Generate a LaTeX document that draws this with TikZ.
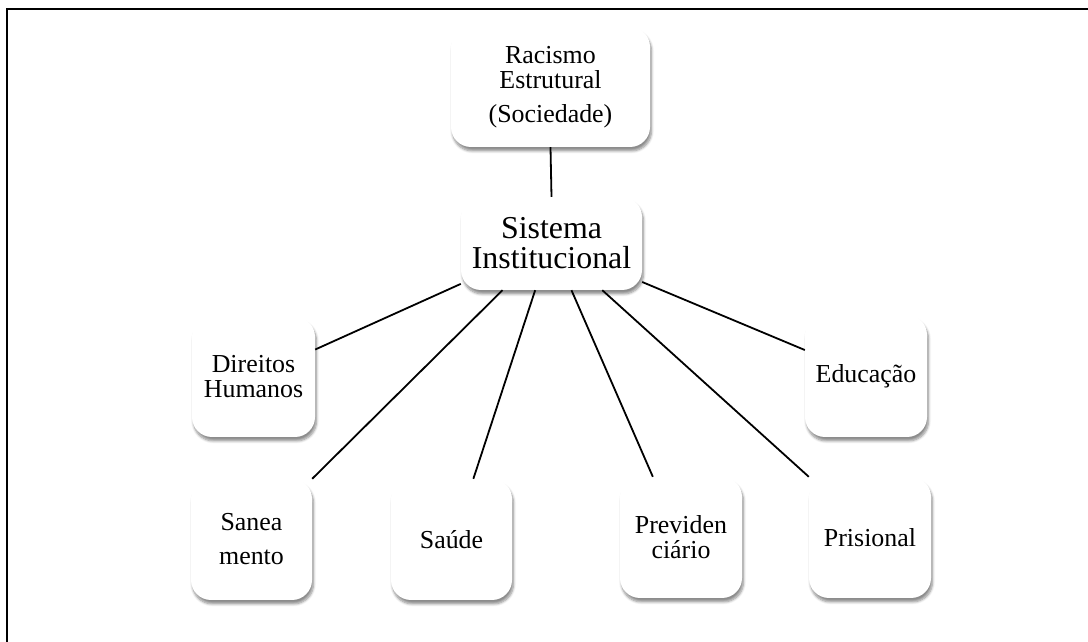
\documentclass[tikz,border=0pt]{standalone}
\usepackage{fontspec}
\setmainfont{Liberation Serif}
\usepackage{tikz}
\usetikzlibrary{calc,positioning,shadows.blur}

\begin{document}
\begin{tikzpicture}[
  x=1bp,y=1bp,
  card/.style={fill=white,rounded corners=20bp,align=center,inner sep=0pt,
               font=\fontsize{26}{25}\selectfont,
               blur shadow={shadow xshift=1.5bp,shadow yshift=-4bp,
                            shadow blur radius=2.5bp,shadow blur steps=6,shadow opacity=45}},
  link/.style={black,line width=1.8bp}
]
  \useasboundingbox (0,0) rectangle (1088,642);
  % frame
  \draw[line width=2.2bp] (1088,633) -- (7,633) -- (7,0);

  \node[card,minimum width=199bp,minimum height=120bp] (rac) at (550.5,555) {Racismo\\Estrutural\\[9bp](Sociedade)};
  \node[card,minimum width=181bp,minimum height=93bp,font=\fontsize{32}{30}\selectfont] (sis) at (551.5,398.5) {Sistema\\Institucional};
  \node[card,minimum width=123bp,minimum height=120bp] (dir) at (253.5,265) {Direitos\\Humanos};
  \node[card,minimum width=122bp,minimum height=122bp] (edu) at (866,266) {Educação};
  \node[card,minimum width=121bp,minimum height=121bp] (san) at (251.5,102.5) {Sanea\\[9bp]mento};
  \node[card,minimum width=121bp,minimum height=121bp] (sau) at (451.5,102.5) {Saúde};
  \node[card,minimum width=122bp,minimum height=121bp] (pre) at (681,104.5) {Previden\\ciário};
  \node[card,minimum width=122bp,minimum height=121bp] (pri) at (870,104.5) {Prisional};

  \draw[link] (rac.south) -- (sis.north);
  \draw[link] (sis.204) -- (dir.24);
  \draw[link] (sis.337) -- (edu.157);
  \draw[link] ($(sis.south west)!0.23!(sis.south east)$) -- (san.north east);
  \draw[link] ($(sis.south west)!0.41!(sis.south east)$) -- ($(sau.north west)!0.68!(sau.north east)$);
  \draw[link] ($(sis.south west)!0.61!(sis.south east)$) -- ($(pre.north west)!0.27!(pre.north east)$);
  \draw[link] ($(sis.south west)!0.78!(sis.south east)$) -- (pri.north west);
\end{tikzpicture}
\end{document}
